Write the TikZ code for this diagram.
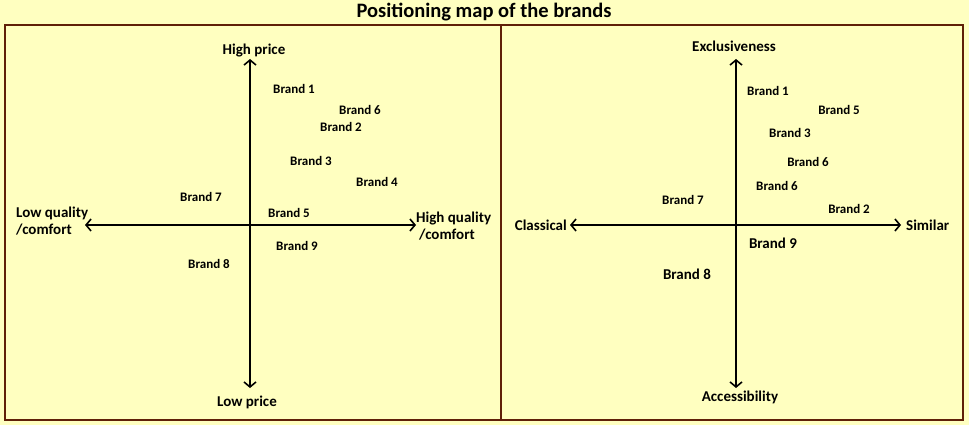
\documentclass[tikz,border=0pt]{standalone}
\usepackage{fontspec}
\setmainfont{Carlito}
\usetikzlibrary{arrows.meta}
\definecolor{bgyellow}{RGB}{255,255,192}
\definecolor{framebrown}{RGB}{96,32,8}
\tikzset{
  brand/.style={font=\fontsize{13}{15}\selectfont\bfseries, inner sep=0pt, anchor=center},
  bigbrand/.style={font=\fontsize{15}{17}\selectfont\bfseries, inner sep=0pt, anchor=center},
  axislabel/.style={font=\fontsize{15}{17}\selectfont\bfseries, inner sep=0pt},
  axis/.style={line width=1.6pt, black, {Straight Barb[length=5pt,width=12pt,line width=1.6pt]}-{Straight Barb[length=5pt,width=12pt,line width=1.6pt]}},
  frame/.style={draw=framebrown, line width=1.8pt}
}
\begin{document}
\begin{tikzpicture}[x=1pt,y=-1pt]
\fill[bgyellow] (0,0) rectangle (969,425);
\useasboundingbox (0,0) rectangle (969,425);
\node[font=\fontsize{20.5}{24}\selectfont\bfseries, inner sep=0pt] (title) at (484,12) {Positioning map of the brands};
\draw[frame] (5,25) rectangle (963,420);
\draw[frame] (501,25) -- (501,420);
% left map
\coordinate (LT) at (250,59);
\coordinate (LB) at (250,388);
\coordinate (LL) at (85,225);
\coordinate (LR) at (416,225);
\draw[axis] (LB) -- (LT);
\draw[axis] (LL) -- (LR);
\node[axislabel] (hp) at (254,51) {High price};
\node[axislabel] (lp) at (247,402) {Low price};
\node[axislabel, anchor=west, align=left] (lq) at (16,221) {Low quality\\/comfort};
\node[axislabel, anchor=west, align=left] (hq) at (416,226) {High quality\\\hspace*{3pt}/comfort};
\node[brand] (a1) at (294,89) {Brand 1};
\node[brand] (a6) at (360,110) {Brand 6};
\node[brand] (a2) at (341,127) {Brand 2};
\node[brand] (a3) at (311,161) {Brand 3};
\node[brand] (a4) at (377,182) {Brand 4};
\node[brand] (a7) at (201,197) {Brand 7};
\node[brand] (a5) at (289,213) {Brand 5};
\node[brand] (a9) at (297,246) {Brand 9};
\node[brand] (a8) at (209,264) {Brand 8};
% right map
\coordinate (RT) at (736,59);
\coordinate (RB) at (736,388);
\coordinate (RL) at (570,225);
\coordinate (RR) at (901,225);
\draw[axis] (RB) -- (RT);
\draw[axis] (RL) -- (RR);
\node[axislabel] (ex) at (734,46) {Exclusiveness};
\node[axislabel] (ac) at (740,397) {Accessibility};
\node[axislabel, anchor=east] (cl) at (567,225) {Classical};
\node[axislabel, anchor=west] (si) at (906,225) {Similar};
\node[brand] (b1) at (768,91) {Brand 1};
\node[brand] (b5) at (839,110) {Brand 5};
\node[brand] (b3) at (790,133) {Brand 3};
\node[brand] (b6a) at (808,162) {Brand 6};
\node[brand] (b6b) at (777,186) {Brand 6};
\node[brand] (b7) at (683,200) {Brand 7};
\node[brand] (b2) at (849,209) {Brand 2};
\node[bigbrand] (b9) at (773,243) {Brand 9};
\node[bigbrand] (b8) at (687,274) {Brand 8};
\end{tikzpicture}
\end{document}
